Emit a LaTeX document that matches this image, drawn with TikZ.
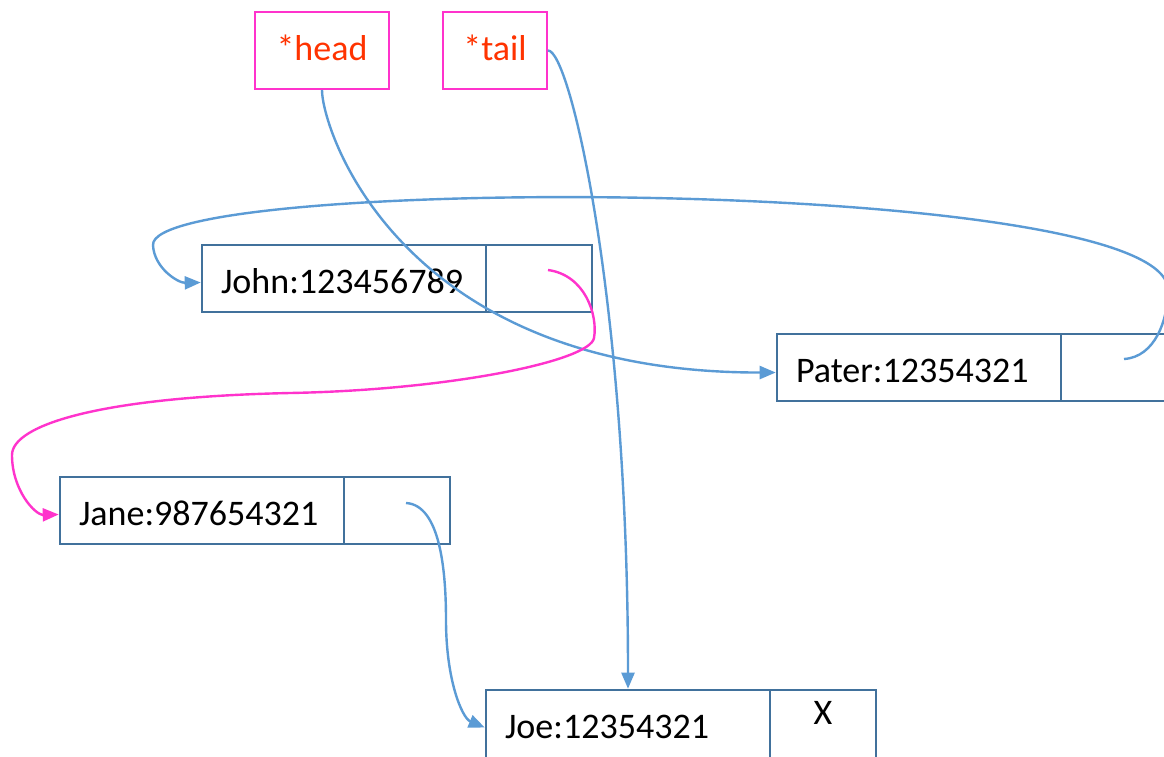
\documentclass[tikz,border=0pt]{standalone}
\usepackage{fontspec}
\setmainfont{Carlito}
\usetikzlibrary{arrows.meta}
\definecolor{boxblue}{HTML}{41719C}
\definecolor{lineblue}{HTML}{5B9BD5}
\definecolor{pinkline}{HTML}{FF33CC}
\definecolor{redtext}{HTML}{FF3300}
\tikzset{
  ptrbox/.style={draw=pinkline, line width=2pt, fill=white, inner sep=0pt,
    minimum height=77pt, text=redtext, font=\fontsize{36}{40}\selectfont,
    text height=19pt, text depth=0pt},
  databox/.style={draw=boxblue, line width=2.6pt, inner xsep=19pt, inner ysep=0pt,
    minimum width=284pt, minimum height=67pt, text width=246pt, align=left,
    font=\fontsize{36}{40}\selectfont, text height=29pt, text depth=0pt},
  cellbox/.style={draw=boxblue, line width=2.6pt, inner sep=0pt,
    minimum width=106pt, minimum height=67pt},
  tallbox/.style={minimum height=81pt, text height=16pt},
  xmark/.style={inner sep=0pt, font=\fontsize{36}{40}\selectfont},
  blueconn/.style={draw=lineblue, line width=2.4pt, -{Triangle[length=16pt,width=13pt]}},
  pinkconn/.style={draw=pinkline, line width=2.4pt, -{Triangle[length=16pt,width=13pt]}}
}
\begin{document}
\begin{tikzpicture}[x=1pt,y=-1pt]
\useasboundingbox[fill=white] (0,0) rectangle (1164,756);
% pointer boxes
\node[ptrbox, minimum width=134pt] (head) at (322,50.5) {*head};
\node[ptrbox, minimum width=104pt] (tail) at (495,50.5) {*tail};
% list nodes
\node[databox] (johnD) at (344,278.5) {John:123456789};
\node[cellbox] (johnP) at (539,278.5) {};
\node[databox] (paterD) at (919,367.5) {Pater:12354321};
\node[cellbox] (paterP) at (1114,367.5) {};
\node[databox] (janeD) at (202,510.5) {Jane:987654321};
\node[cellbox] (janeP) at (397,510.5) {};
\node[databox, tallbox] (joeD) at (628,730.5) {Joe:12354321};
\node[cellbox, tallbox] (joeP) at (823,730.5) {};
\node[xmark] (joeX) at (823,713) {X};
% pointer start points
\coordinate (jpS) at (548,270);
\coordinate (ppS) at (1124,359);
\coordinate (japS) at (406,503);
% head -> Pater
\draw[blueconn] (head.south) .. controls (322,130) and (400,373) .. ([yshift=-5pt]paterD.west);
% tail -> Joe
\draw[blueconn] (tail.east) .. controls (570,50) and (628,300) .. (joeD.north);
% Pater -> John
\draw[blueconn] (ppS) .. controls (1155,357) and (1168,320) .. (1168,290)
  .. controls (1168,175) and (150,175) .. (153,245)
  .. controls (154,268) and (178,283) .. ([yshift=-4pt]johnD.west);
% John -> Jane
\draw[pinkconn] (jpS) .. controls (585,275) and (598,315) .. (594,338)
  .. controls (590,361) and (450,390) .. (290,393)
  .. controls (100,397) and (12,425) .. (12,455)
  .. controls (12,490) and (35,515) .. ([yshift=-4pt]janeD.west);
% Jane -> Joe
\draw[blueconn] (japS) .. controls (440,505) and (446,570) .. (446,620)
  .. controls (446,680) and (462,718) .. ([yshift=3pt]joeD.west);
\end{tikzpicture}
\end{document}
